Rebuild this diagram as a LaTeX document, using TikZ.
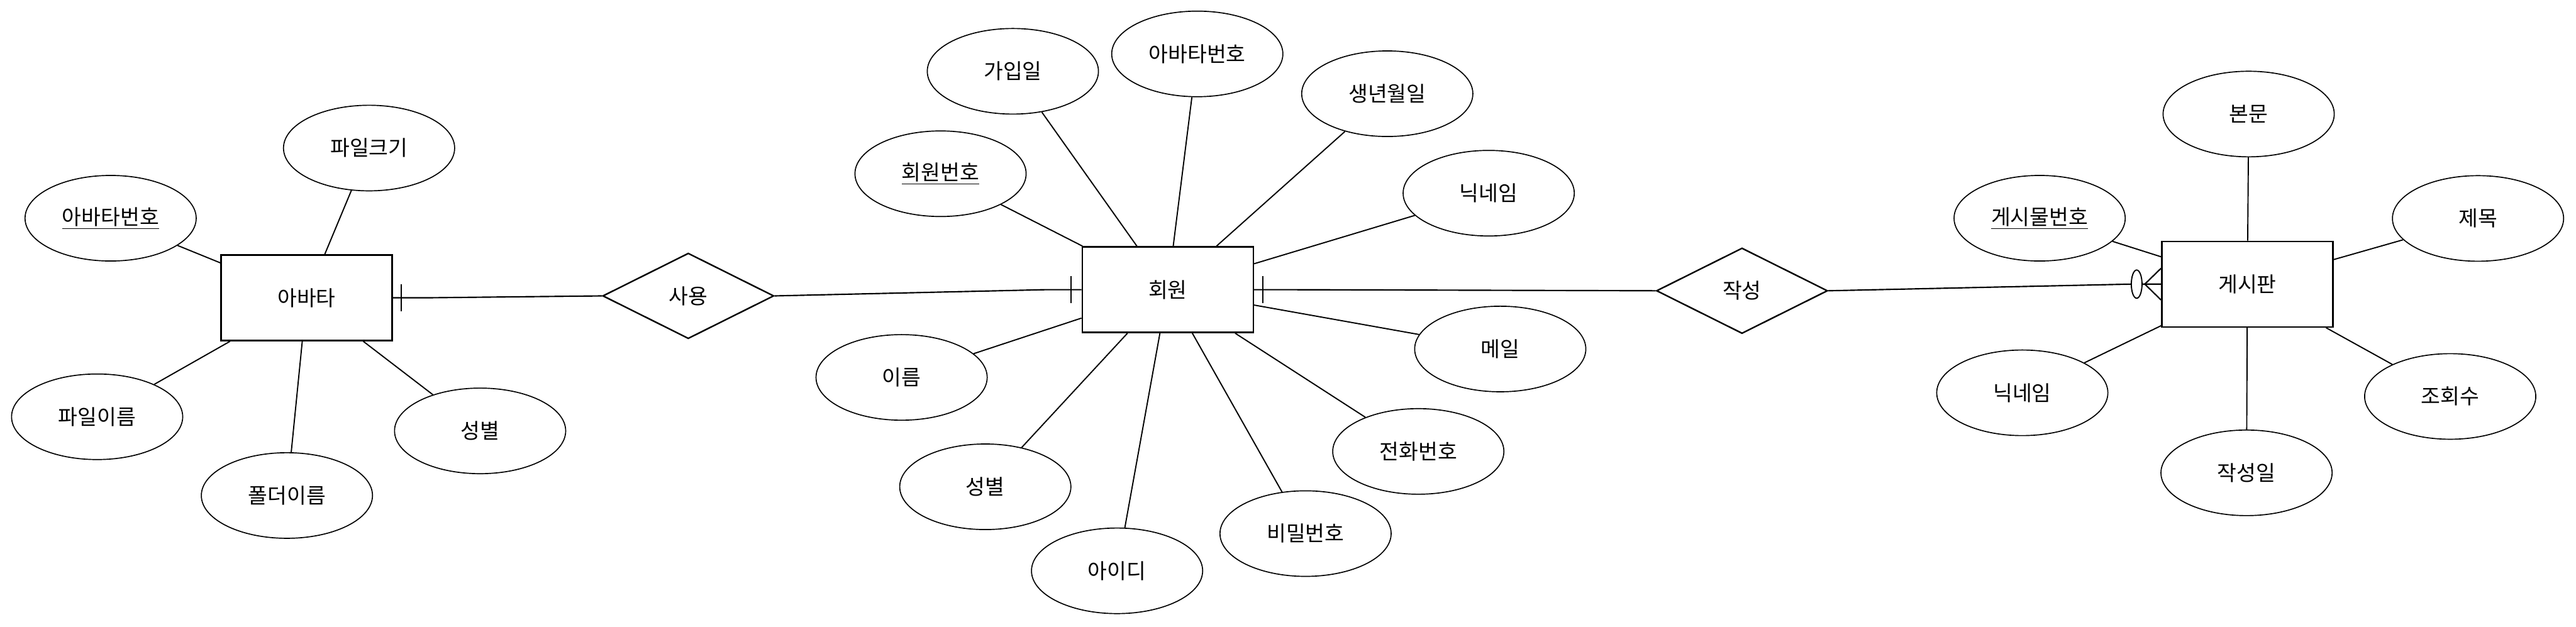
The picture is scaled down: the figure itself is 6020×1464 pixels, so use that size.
\documentclass[tikz,border=0pt]{standalone}
\usepackage{fontspec}
\newfontfamily\kr{Noto Sans CJK KR}
\usetikzlibrary{shapes.geometric}
\begin{document}
\begin{tikzpicture}[x=0.1mm,y=-0.1mm,
  every node/.style={font=\kr\fontsize{14pt}{17pt}\selectfont, text=black},
  ent/.style={draw, line width=1pt, rectangle, minimum width=40mm, minimum height=20mm, inner sep=0pt},
  attr/.style={draw, line width=0.7pt, ellipse, minimum width=40mm, minimum height=20mm, inner sep=0pt},
  rel/.style={draw, line width=1pt, diamond, minimum width=40mm, minimum height=20mm, inner sep=0pt},
  link/.style={line width=0.8pt},
  rlink/.style={line width=0.9pt},
  zmark/.style={draw, ellipse, fill=white, line width=0.8pt, minimum width=2.5mm, minimum height=6.6mm, inner sep=0pt},
]
\useasboundingbox (0,0) rectangle (6020,1464);

% entities and relationships
\node[ent] (av) at (716.5,696) {아바타};
\node[ent] (mem) at (2729,677) {회원};
\node[ent] (bd) at (5252,664) {게시판};
\node[rel] (use) at (1608.5,691.5) {사용};
\node[rel] (wr) at (4071,679.5) {작성};

% avatar attributes
\node[attr] (avno) at (258.5,510) {\underline{아바타번호}};
\node[attr] (fsize) at (862.5,346) {파일크기};
\node[attr] (fname) at (227,974) {파일이름};
\node[attr] (folder) at (670.5,1158) {폴더이름};
\node[attr] (avsex) at (1122,1007) {성별};

% member attributes
\node[attr] (join) at (2367,166.6) {가입일};
\node[attr] (mavno) at (2798,126) {아바타번호};
\node[attr] (birth) at (3242,219) {생년월일};
\node[attr] (memno) at (2198,406) {\underline{회원번호}};
\node[attr] (nick) at (3479,451.5) {닉네임};
\node[attr] (mail) at (3506,815.6) {메일};
\node[attr] (name) at (2107,882) {이름};
\node[attr] (msex) at (2302.6,1137.6) {성별};
\node[attr] (tel) at (3314.5,1055) {전화번호};
\node[attr] (pw) at (3051,1247) {비밀번호};
\node[attr] (uid) at (2610.5,1334) {아이디};

% board attributes
\node[attr] (body) at (5255,266.5) {본문};
\node[attr] (postno) at (4766.5,510) {\underline{게시물번호}};
\node[attr] (title) at (5791,510.5) {제목};
\node[attr] (bnick) at (4726,918) {닉네임};
\node[attr] (views) at (5726,926.5) {조회수};
\node[attr] (wdate) at (5250,1105) {작성일};

% attribute links
\foreach \a in {avno,fsize,fname,folder,avsex} \draw[link] (\a) -- (av);
\foreach \a in {join,mavno,birth,memno,nick,mail,name,msex,tel,pw,uid} \draw[link] (\a) -- (mem);
\foreach \a in {body,postno,title,bnick,views,wdate} \draw[link] (\a) -- (bd);

% avatar -- use
\draw[rlink] (av.east) -- ++(74,0) -- (use.west);
\coordinate (b1) at ([xshift=1.9mm]av.east);
\draw[rlink] (b1) ++(0,-32) -- ++(0,64);

% use -- member
\draw[rlink] (use.east) -- ([xshift=-8.5mm]mem.west) -- (mem.west);
\coordinate (b2) at ([xshift=-2.45mm]mem.west);
\draw[rlink] (b2) ++(0,-32) -- ++(0,64);

% member -- write
\draw[rlink] (mem.east) -- ++(85,0) -- (wr.west);
\coordinate (b3) at ([xshift=2.05mm]mem.east);
\draw[rlink] (b3) ++(0,-32) -- ++(0,64);

% write -- board (zero or many)
\draw[rlink] (wr.east) -- ([xshift=-7mm]bd.west) -- (bd.west);
\coordinate (cf) at ([xshift=-3.8mm]bd.west);
\draw[rlink] (cf) -- ([yshift=3.7mm]bd.west);
\draw[rlink] (cf) -- ([yshift=-3.7mm]bd.west);
\node[zmark] (zc) at ([xshift=-5.7mm]bd.west) {};
\end{tikzpicture}
\end{document}
